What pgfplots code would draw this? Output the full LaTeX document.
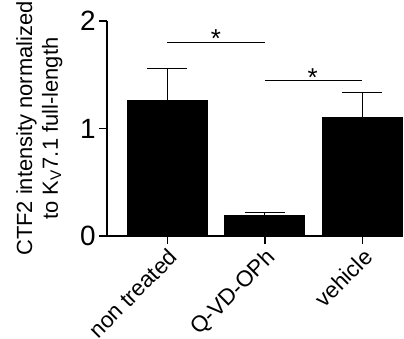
\documentclass[border=0pt]{standalone}
\usepackage{pgfplots}
\pgfplotsset{compat=1.18}
\usepackage{fontspec}
\setmainfont{Liberation Sans}
\begin{document}
\begin{tikzpicture}
\begin{axis}[
  scale only axis,
  width=148bp, height=107.5bp,
  xmin=-0.618, xmax=2.417,
  ymin=0, ymax=2,
  axis lines=left,
  axis line style={-, line width=0.75pt},
  ytick={0,1,2},
  xtick={0,1,2},
  xticklabels={non treated, Q-VD-OPh, vehicle},
  tick style={black, line width=0.75pt},
  tick align=outside,
  major tick length=4bp,
  /pgf/number format/assume math mode=true,
  yticklabel style={font=\fontsize{14}{14}\selectfont, inner sep=1.5bp},
  xticklabel style={font=\fontsize{11.3}{11.3}\selectfont, rotate=45, anchor=north east, inner sep=1bp},
  ylabel={CTF2 intensity normalized\\to K\textsubscript{V}7.1 full-length},
  ylabel style={align=center, font=\fontsize{11}{13}\selectfont,
    at={(axis description cs:-0.149,0.5)}, anchor=south, inner sep=0pt},
  ybar, bar width=40bp, bar shift=0bp,
  clip=false,
]
\addplot[fill=black, draw=black,
  error bars/.cd, y dir=plus, y explicit,
  error bar style={line width=0.6pt, black},
  error mark options={rotate=90, mark size=10bp, line width=0.6pt, black}]
  coordinates {(0,1.265) +- (0,0.295) (1,0.19) +- (0,0.03) (2,1.10) +- (0,0.233)};
\addplot[sharp plot, black, line width=0.5pt] coordinates {(0,1.80) (1,1.80)};
\addplot[sharp plot, black, line width=0.5pt] coordinates {(1,1.451) (2,1.451)};
\node[anchor=base, font=\fontsize{13}{13}\selectfont] at (axis cs:0.5,1.75) {*};
\node[anchor=base, font=\fontsize{13}{13}\selectfont] at (axis cs:1.49,1.39) {*};
\end{axis}
\pgfresetboundingbox
\path ([shift={(-53.5bp,-51.5bp)}]current axis.south west) rectangle ([shift={(0.5bp,10.5bp)}]current axis.north east);
\end{tikzpicture}
\end{document}
